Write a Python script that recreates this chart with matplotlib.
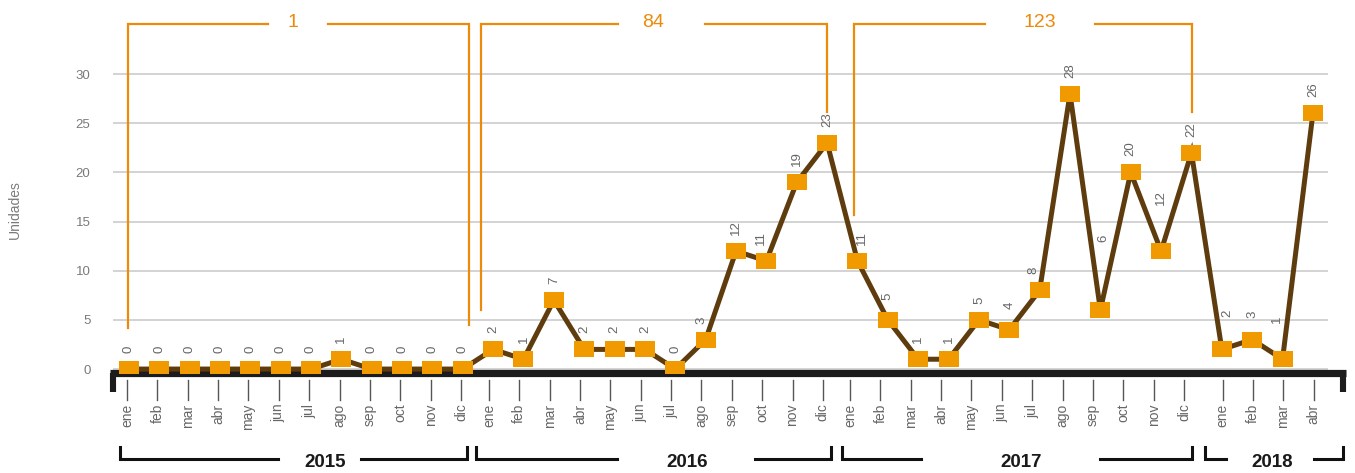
import numpy as np
import matplotlib
matplotlib.use("Agg")
import matplotlib.pyplot as plt
import matplotlib.transforms as mtransforms

# data
years = [2015, 2016, 2017, 2018]
months = ["ene", "feb", "mar", "abr", "may", "jun", "jul", "ago", "sep", "oct", "nov", "dic"]
v2015 = [0, 0, 0, 0, 0, 0, 0, 1, 0, 0, 0, 0]
v2016 = [2, 1, 7, 2, 2, 2, 0, 3, 12, 11, 19, 23]
v2017 = [11, 5, 1, 1, 5, 4, 8, 28, 6, 20, 12, 22]
v2018 = [2, 3, 1, 26]
yticks = [0, 5, 10, 15, 20, 25, 30]

series = [v2015, v2016, v2017, v2018]

# layout / style
ORANGE = "#ED8A0A"
MARKER = "#F09A00"
BROWN = "#5E3C0E"
GREY = "#7a7a7a"
W, H = 1355, 473
plt.rcParams["font.family"] = ["Liberation Sans Narrow", "Liberation Sans", "DejaVu Sans"]

# month ticks are grouped per year, with small shifts vs. the points
tick_shift = [-0.06, -0.14, -0.245, 0.03]

xs, vals, labs, ticks = [], [], [], []
for k, v in enumerate(series):
    for i, val in enumerate(v):
        xs.append(12 * k + i)
        ticks.append(12 * k + i + tick_shift[k])
        vals.append(val)
        labs.append(months[i])
xs = np.array(xs)
vals = np.array(vals)

fig = plt.figure(figsize=(W / 100, H / 100), dpi=100)
ax_l, ax_r = 110 / W, 1346 / W
ax_b, ax_t = (H - 373) / H, (H - 5.3) / H
ax = fig.add_axes([ax_l, ax_b, ax_r - ax_l, ax_t - ax_b])
ax.set_xlim(-0.619, 40.09)
ax.set_ylim(-0.4, 37)

for s in ["top", "right", "left"]:
    ax.spines[s].set_visible(False)
ax.spines["bottom"].set_linewidth(5.2)
ax.spines["bottom"].set_color("#1c1c1c")
ax.spines["bottom"].set_capstyle("butt")
ax.spines["bottom"].set_zorder(3)

# grid lines
ax.hlines(yticks, -0.52, 39.5, color="#cccccc", lw=1.2, zorder=1)

# y ticks
ax.set_yticks(yticks)
ax.tick_params(axis="y", length=0, pad=14, labelsize=9.5, labelcolor=GREY)
fig.text(15 / W, 1 - 210 / H, "Unidades", rotation=90, ha="center", va="center",
         fontsize=10, color=GREY)

# x ticks: months
ax.set_xticks(ticks)
ax.set_xticklabels(labs, rotation=90, fontsize=10, color="#666666")
ax.tick_params(axis="x", length=0, pad=22)
trans = mtransforms.blended_transform_factory(ax.transData, ax.transAxes)
hpx = (373 - 5.3)
for x in ticks:
    ax.plot([x, x], [-(380 - 373) / hpx, -(400 - 373) / hpx], color="#555555",
            lw=1.0, transform=trans, clip_on=False)

# drops at both ends of the base line
for xe in [3 / 1236, 1 - 3 / 1236]:
    ax.plot([xe, xe], [0.0, -(392 - 373) / hpx], color="#1c1c1c", lw=4.4,
            solid_capstyle="butt", transform=ax.transAxes, clip_on=False)

# line and markers
rect = [(-1, -0.79), (1, -0.79), (1, 0.79), (-1, 0.79), (-1, -0.79)]
ax.plot(xs, vals, color=BROWN, lw=3.6, zorder=4, solid_joinstyle="miter")
ax.plot(xs, vals, ls="none", marker=rect, markersize=13.7, markerfacecolor=MARKER,
        markeredgewidth=0, zorder=5)

# value labels, some nudged (px) off the line
nudge = {19: (-4, 0), 21: (-5.5, 0), 24: (4, 0), 25: (0, 4), 29: (0, 5), 30: (-6, 0),
         32: (3, 52), 34: (0, 30), 36: (5, 16), 37: (0, 6), 38: (-5.5, 20)}
for i, (x, v) in enumerate(zip(xs, vals)):
    dx, dy = nudge.get(i, (0, 0))
    ax.annotate(str(v), (x, v), xytext=(dx * 0.72, 11.5 + dy * 0.72),
                textcoords="offset points", rotation=90, ha="center", va="bottom",
                fontsize=9.5, color="#666666", zorder=6)

# year brackets under the axis: start, gap start, gap end, end, label x
yb = [(-0.29, 4.91, 7.65, 11.14, 6.48),
      (11.44, 16.08, 20.63, 23.13, 18.40),
      (23.50, 26.08, 31.99, 35.03, 29.40),
      (35.45, 36.15, 39.02, 39.98, 37.67)]
y_h = -(459 - 373) / hpx
y_v = -(447 - 373) / hpx
for yr, (x0, g0, g1, x1, xt) in zip(years, yb):
    ax.plot([x0, x0, g0], [y_v, y_h, y_h], color="#111111", lw=2.2, transform=trans,
            clip_on=False, solid_joinstyle="miter")
    ax.plot([g1, x1, x1], [y_h, y_h, y_v], color="#111111", lw=2.2, transform=trans,
            clip_on=False, solid_joinstyle="miter")
    ax.text(xt, -(462 - 373) / hpx, str(yr), transform=trans, ha="center", va="center",
            fontsize=13.5, fontweight="bold", color="#1a1a1a")

# yearly totals on top: left, gap start, gap end, right, label x, left drop, right drop
tb = [(-0.03, 4.58, 6.56, 11.21, 5.41, 4.2, 4.5),
      (11.60, 16.11, 18.98, 22.98, 17.27, 6.0, 26.1),
      (23.89, 28.2, 31.82, 35.02, 30.0, 15.67, 26.1)]
y_top = 35.1
for v, (x0, g0, g1, x1, xt, d0, d1) in zip(series[:3], tb):
    ax.plot([x0, x0, g0], [d0, y_top, y_top], color=ORANGE, lw=1.6, clip_on=False,
            solid_joinstyle="miter", zorder=2)
    ax.plot([g1, x1, x1], [y_top, y_top, d1], color=ORANGE, lw=1.6, clip_on=False,
            solid_joinstyle="miter", zorder=2)
    ax.text(xt, y_top + 0.15, str(sum(v)), ha="center", va="center", fontsize=14,
            color=ORANGE)

fig.savefig("out.png", dpi=100)
